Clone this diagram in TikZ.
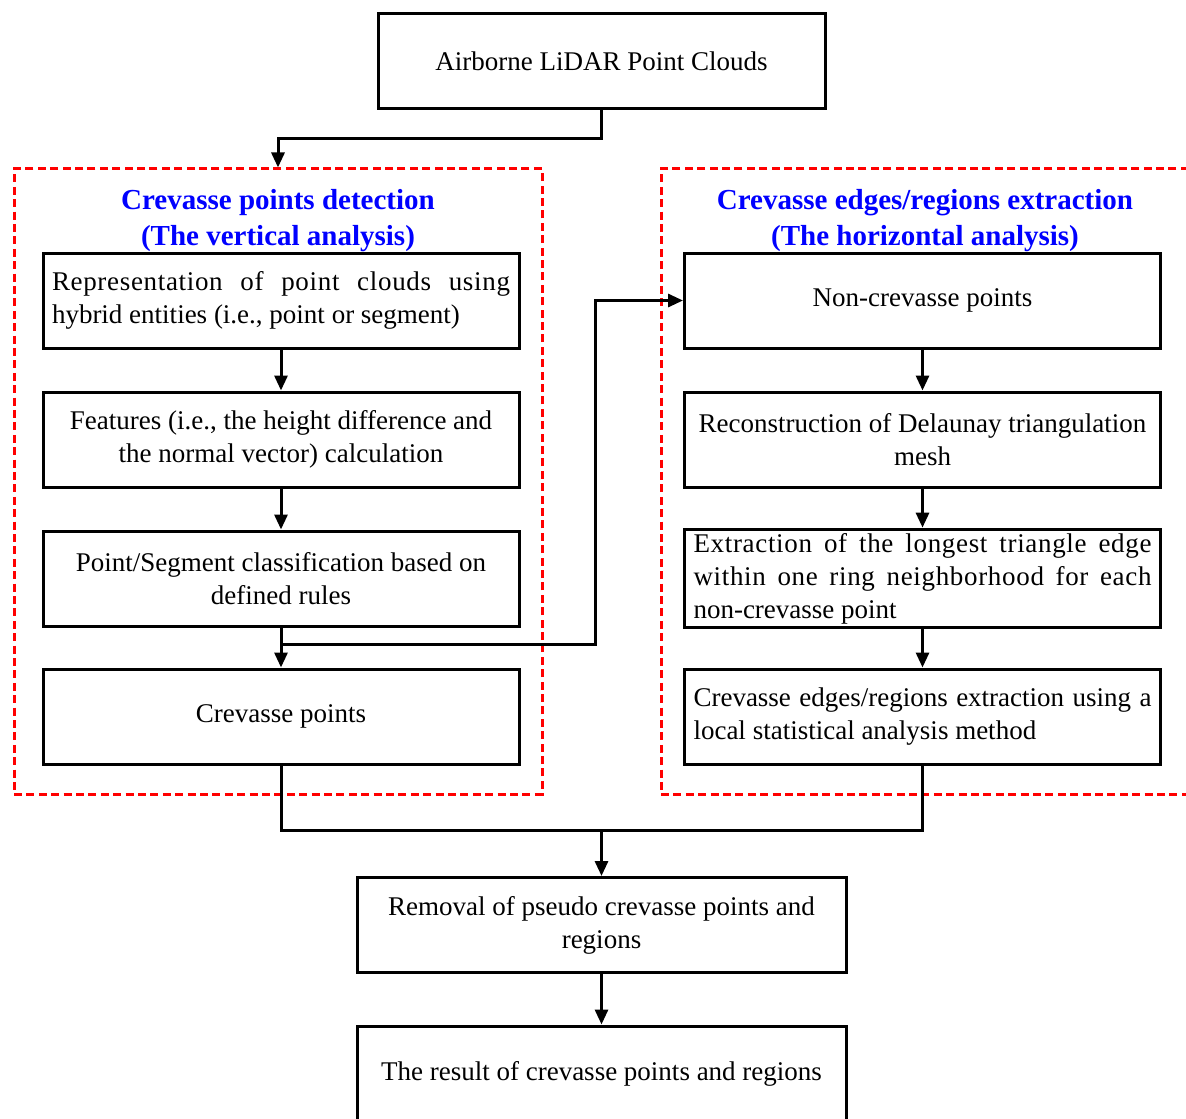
\documentclass[tikz,border=0pt]{standalone}
\usepackage{fontspec}
\setmainfont{Liberation Serif}
\usetikzlibrary{arrows.meta}

\newcommand{\flowfont}{\fontsize{13.5}{16.5}\selectfont}
\newcommand{\jline}[2][2.5]{{\addfontfeature{LetterSpace=#1}\spaceskip=0.25em plus 1fil\relax\makebox[229pt][s]{#2}}}

\tikzset{
    box/.style={draw, line width=1.5pt, minimum width=238pt, minimum height=47.5pt,
        inner sep=2pt, align=center, font=\flowfont},
    jbox/.style={box, text width=229pt, align=flush left},
    redbox/.style={draw=red, line width=1.5pt, dash pattern=on 4pt off 2.2pt,
        minimum width=264pt, minimum height=312.5pt, inner sep=0pt},
    title/.style={text=blue, align=center, inner sep=0pt,
        font=\fontsize{14.5}{18}\selectfont\bfseries},
    line/.style={line width=1.5pt},
    flow/.style={line, -{Triangle[length=7.5pt,width=6.5pt]}}
}

\begin{document}
\begin{tikzpicture}[x=0.5pt, y=-0.5pt]
            \useasboundingbox (0,0) rectangle (1186,1118);

            % input
            \node[box, minimum width=223.5pt] (src) at (601.5,61.5) {Airborne LiDAR Point Clouds};

            % dashed groups
            \node[redbox] (grpL) at (278,481.5) {};
            \node[redbox] (grpR) at (925,481.5) {};
            \node[title] (tL) at (278,221) {Crevasse points detection\\(The vertical analysis)};
            \node[title] (tR) at (925,221) {Crevasse edges/regions extraction\\(The horizontal analysis)};

            % vertical analysis
            \node[jbox] (L1) at (281,300.5) {\jline{Representation of point clouds using}\\hybrid entities (i.e., point or segment)};
            \node[box] (L2) at (281,439.5) {Features (i.e., the height difference and\\the normal vector) calculation};
            \node[box] (L3) at (281,578.5) {Point/Segment classification based on\\defined rules};
            \node[box] (L4) at (281,716.5) {Crevasse points};

            % horizontal analysis
            \node[box] (R1) at (922.5,300.5) {Non-crevasse points};
            \node[box] (R2) at (922.5,439.5) {Reconstruction of Delaunay triangulation\\mesh};
            \node[jbox] (R3) at (922.5,578.5) {\jline{Extraction of the longest triangle edge}\\\jline{within one ring neighborhood for each}\\non-crevasse point};
            \node[jbox] (R4) at (922.5,716.5) {\jline[0]{Crevasse edges/regions extraction using a}\\local statistical analysis method};

            % output
            \node[box, minimum width=244.5pt] (rm) at (601.5,925) {Removal of pseudo crevasse points and\\regions};
            \node[box, minimum width=244.5pt] (res) at (601.5,1073.5) {The result of crevasse points and regions};

            % arrow into the left group
            \draw[flow] (src.south) -- ++(0,28) -| (grpL.north);

            % left chain
            \draw[flow] (L1) -- (L2);
            \draw[flow] (L2) -- (L3);
            \draw[flow] (L3) -- (L4);

            % branch to the right group
            \coordinate (split) at (281,644);
            \coordinate (bend) at (595,644);
            \draw[flow] (split) -- (bend) |- (R1.west);

            % right chain
            \draw[flow] (R1) -- (R2);
            \draw[flow] (R2) -- (R3);
            \draw[flow] (R3) -- (R4);

            % merge
            \coordinate (merge) at (601.5,830);
            \draw[line] (L4.south) |- (merge) -| (R4.south);
            \draw[flow] (merge) -- (rm.north);
            \draw[flow] (rm) -- (res);
\end{tikzpicture}
\end{document}
